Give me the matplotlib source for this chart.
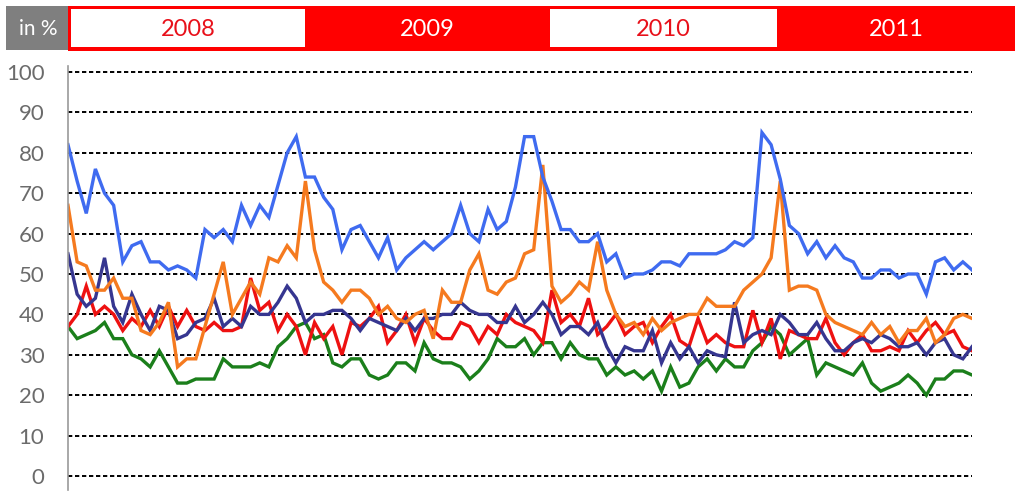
import matplotlib
matplotlib.use("Agg")
import matplotlib.pyplot as plt
from matplotlib.patches import Rectangle
from matplotlib.lines import Line2D

# biweekly values, 2008 - 2011 (in %)
blue = [82, 73, 65, 76, 70, 67, 53, 57, 58, 53, 53, 51, 52, 51, 49, 61, 59, 61, 58, 67,
        62, 67, 64, 72, 80, 84, 74, 74, 69, 66, 56, 61, 62, 58, 54, 59, 51, 54, 56, 58,
        56, 58, 60, 67, 60, 58, 66, 61, 63, 71.5, 84, 84, 74, 68, 61, 61, 58, 58, 60, 53,
        55, 49, 50, 50, 51, 53, 53, 52, 55, 55, 55, 55, 56, 58, 57, 59, 85, 82, 73.5, 62,
        60, 55, 58, 54, 57, 54, 53, 49, 49, 51, 51, 49, 50, 50, 45, 53, 54, 51, 53, 51]
orange = [67, 53, 52, 46, 46, 49, 44, 44, 36, 35, 38, 43, 27, 29, 29, 37, 45, 53, 40, 44,
          48, 45, 54, 53, 57, 54, 73, 56, 48, 46, 43, 46, 46, 44, 40, 42, 39, 38, 40, 41,
          34, 46, 43, 43, 51, 55, 46, 45, 48, 49, 55, 56, 77, 47, 43, 45, 48, 46, 58, 46,
          40, 37, 38, 35, 39, 36, 38, 39, 40, 40, 44, 42, 42, 42, 46, 48, 50, 54, 73, 46,
          47, 47, 46, 40, 38, 37, 36, 35, 38, 35, 37, 33, 36, 36, 39, 33, 35, 39, 40, 39]
red = [37, 40, 47, 40, 42, 40, 36, 39, 37, 41, 37, 42, 37, 41, 37, 36, 38, 36, 36, 37,
       49, 41, 43, 36, 40, 37, 30, 38, 34, 37, 30, 38, 37, 39, 42, 33, 36, 40, 33, 39,
       36, 34, 34, 38, 37, 33, 37, 35, 40, 38, 37, 36, 33, 46, 38, 40, 37, 44, 35, 37,
       40, 35, 37, 38, 33, 37, 40, 33.5, 32, 39, 33, 35, 33, 32, 32, 41, 33, 39, 29, 36,
       35, 34, 34, 39, 33, 30, 33, 35, 31, 31, 32, 31, 36, 33, 36, 38, 35, 36, 32, 31]
navy = [55, 45, 42, 44, 54, 42, 38, 45, 40, 36, 42, 41, 34, 35, 38, 39, 44, 37, 39, 37,
        42, 40, 40, 43, 47, 44, 38, 40, 40, 41, 41, 39, 36, 39, 38, 37, 36, 39, 36, 39,
        39, 40, 40, 43, 41, 40, 40, 38, 38, 42, 38, 40, 43, 40, 35, 37, 37, 35, 38, 32,
        28, 32, 31, 31, 36, 28, 33, 29, 32, 28, 31, 30, 29.5, 43, 33, 35, 36, 35, 40, 38,
        35, 35, 38, 34, 31, 31, 33, 34, 33, 35, 34, 32, 32, 33, 30, 33, 34, 30, 29, 32]
green = [37, 34, 35, 36, 38, 34, 34, 30, 29, 27, 31, 27, 23, 23, 24, 24, 24, 29, 27, 27,
         27, 28, 27, 32, 34, 37, 38, 34, 35, 28, 27, 29, 29, 25, 24, 25, 28, 28, 26, 33,
         29, 28, 28, 27, 24, 26, 29, 34, 32, 32, 34, 30, 33, 33, 29, 33, 30, 29, 29, 25,
         27, 25, 26, 24, 26, 21, 27, 22, 23, 27, 29, 26, 29, 27, 27, 31, 33, 37, 35, 30,
         32, 34, 25, 28, 27, 26, 25, 28, 23, 21, 22, 23, 25, 23, 20, 24, 24, 26, 26, 25]

years = ["2008", "2009", "2010", "2011"]
yticks = list(range(0, 101, 10))

W, H = 1024, 494

def fx(px):
    return px / W

def fy(py):
    return 1 - py / H

fig = plt.figure(figsize=(W / 100, H / 100), dpi=100)
# y: 0 -> 476 px, 100 -> 72 px
ax = fig.add_axes([fx(68), fy(480.04), fx(972) - fx(68), fy(67.96) - fy(480.04)])

x = list(range(len(blue)))
series = [(green, "#1B7F1B"), (red, "#EE1111"), (navy, "#363690"),
          (orange, "#F57A1F"), (blue, "#3F6BF0")]
for vals, col in series:
    ax.plot(x, vals, color=col, lw=2.4, solid_joinstyle="miter", zorder=3)

ax.set_xlim(0, len(blue) - 1)
ax.set_ylim(-1, 101)
ax.set_yticks(yticks)
ax.set_xticks([])
ax.tick_params(axis="y", length=0, pad=17, labelsize=16, labelcolor="#6b6b6b")
for lab in ax.get_yticklabels():
    lab.set_fontfamily("Lato")
ax.grid(axis="y", color="black", lw=1.4, linestyle=(0, (2.2, 1.4)), zorder=1)
for s in ax.spines.values():
    s.set_visible(False)

# left axis line
fig.add_artist(Line2D([fx(68), fx(68)], [fy(66), fy(490)], color="#9a9a9a", lw=1.2,
                      transform=fig.transFigure))

# header band
def rect(x0, y0, x1, y1, col):
    fig.add_artist(Rectangle((fx(x0), fy(y1)), fx(x1) - fx(x0), fy(y0) - fy(y1),
                             facecolor=col, edgecolor="none", transform=fig.transFigure))

rect(6, 6, 68, 50, "#7f7f7f")
fig.text(fx(38), fy(29), "in %", color="white", fontsize=15, ha="center", va="center",
         family="Lato")
rect(68, 6, 1015, 51, "#FF0000")
bands = [(71, 305), (305, 550), (550, 777), (777, 1015)]
for i, (yr, (a, b)) in enumerate(zip(years, bands)):
    if i % 2 == 0:
        rect(a, 9, b, 47, "white")
        tc = "#E8101A"
    else:
        tc = "white"
    fig.text(fx((a + b) / 2), fy(29), yr, color=tc, fontsize=17, ha="center",
             va="center", family="Lato")

fig.savefig("out.png", dpi=100)
